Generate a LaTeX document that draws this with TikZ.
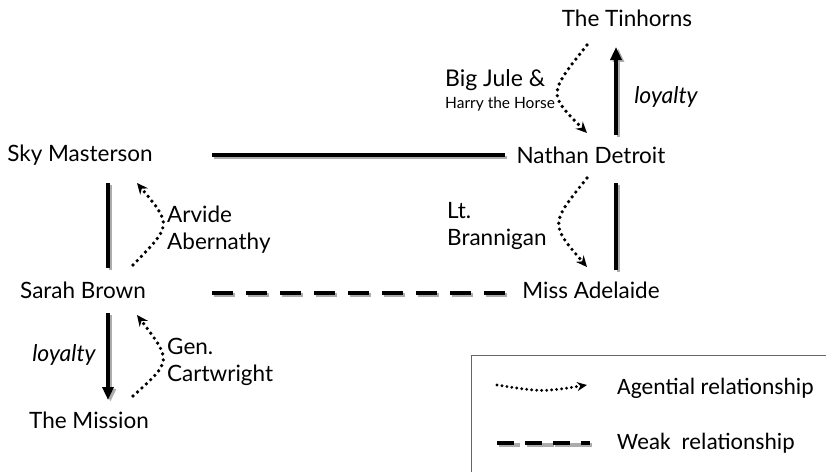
\documentclass[tikz,border=0pt]{standalone}
\usepackage{fontspec}
\setmainfont{Lato}
\newfontfamily\legfont{Carlito}
\usetikzlibrary{arrows.meta}
\begin{document}
\begin{tikzpicture}[x=1pt,y=-1pt,
  lbl/.style={inner sep=0pt, font=\fontsize{22.5}{27}\selectfont},
  side/.style={inner sep=0pt, align=left, anchor=west, font=\fontsize{22.5}{27}\selectfont},
  strong/.style={line width=3.4pt, black, preaction={draw=gray!65, line width=3.4pt, transform canvas={shift={(2.4pt,-2.4pt)}}}},
  weak/.style={line width=4pt, black, dash pattern=on 21pt off 13pt, preaction={draw=gray!65, line width=4pt, dash pattern=on 21pt off 13pt, transform canvas={shift={(2.2pt,-2.2pt)}}}},
  agent/.style={line width=3.7pt, line cap=round, dash pattern=on 0pt off 6pt, -{Stealth[length=11pt,width=10pt,line cap=butt]}},
  loyal/.style={line width=3.4pt, black, -{Triangle[length=13pt,width=11pt]}, preaction={draw=gray!65, line width=3.4pt, -{Triangle[length=13pt,width=11pt]}, transform canvas={shift={(2.4pt,-1.8pt)}}}}
]
\useasboundingbox (0,0) rectangle (826,471);
\clip (0,0) rectangle (826,471);

% nodes
\node[lbl] (sky) at (80,155) {Sky Masterson};
\node[lbl] (sarah) at (83,290) {Sarah Brown};
\node[lbl] (mission) at (89,420) {The Mission};
\node[lbl] (tin) at (627,18) {The Tinhorns};
\node[lbl] (nathan) at (591,155) {Nathan Detroit};
\node[lbl] (adelaide) at (591,290) {Miss Adelaide};

% labels
\node[side] (arvide) at (167,230) {Arvide\\Abernathy};
\node[side] (gen) at (167,362) {Gen.\\Cartwright};
\node[side] (lt) at (447,226) {Lt.\\Brannigan};
\node[side, font=\fontsize{23}{27}\selectfont] (jule) at (445,80) {Big Jule \&};
\node[side, font=\fontsize{15.5}{18}\selectfont] (harry) at (445,104) {Harry the Horse};
\node[inner sep=0pt, font=\itshape\fontsize{23}{27}\selectfont] (loyL) at (64,355) {loyalty};
\node[inner sep=0pt, font=\itshape\fontsize{23}{27}\selectfont] (loyR) at (666,97) {loyalty};

% connector end points
\coordinate (h1) at (212,155); \coordinate (h2) at (505,155);
\coordinate (d1) at (212,293); \coordinate (d2) at (505,293);
\coordinate (v1) at (108,183); \coordinate (v2) at (108,268);
\coordinate (m1) at (108,313); \coordinate (m2) at (108,400);
\coordinate (n1) at (616,183); \coordinate (n2) at (616,270);
\coordinate (t1) at (616,135); \coordinate (t2) at (616,47);

% strong / weak relationships
\draw[strong] (h1) -- (h2);
\draw[weak] (d1) -- (d2);
\draw[strong] (v1) -- (v2);
\draw[strong] (n1) -- (n2);
\draw[loyal] (m1) -- (m2);
\draw[loyal] (t1) -- (t2);

% agential relationships
\coordinate (a1) at (133,265); \coordinate (a2) at (137,183);
\draw[agent] (a1) .. controls (172,225) .. (a2);
\coordinate (g1) at (133,396); \coordinate (g2) at (137,315);
\draw[agent] (g1) .. controls (172,361) .. (g2);
\coordinate (j1) at (587,45); \coordinate (j2) at (587,133);
\draw[agent] (j1) .. controls (548,94) .. (j2);
\coordinate (b1) at (587,178); \coordinate (b2) at (587,267);
\draw[agent] (b1) .. controls (550,224) .. (b2);

% legend
\draw[gray!80!black, line width=0.9pt] (471,485) -- (471,355) -- (840,355);
\coordinate (la1) at (497,385); \coordinate (la2) at (587,385);
\draw[agent, line width=3.2pt, dash pattern=on 0pt off 5pt, -{Stealth[length=10pt,width=9pt,line cap=butt]}] (la1) .. controls (542,392) .. (la2);
\node[inner sep=0pt, anchor=west, font=\legfont\fontsize{23.5}{27}\selectfont] (legA) at (617,388) {Agential relationship};
\coordinate (lw1) at (497,443); \coordinate (lw2) at (590,443);
\draw[weak, line width=3.5pt, dash pattern=on 17pt off 11pt, preaction={draw=gray!65, line width=3.5pt, dash pattern=on 17pt off 11pt, transform canvas={shift={(1.8pt,-1.8pt)}}}] (lw1) -- (lw2);
\node[inner sep=0pt, anchor=west, font=\legfont\fontsize{23.5}{27}\selectfont] (legW) at (617,443) {Weak\ \ relationship};
\end{tikzpicture}
\end{document}
